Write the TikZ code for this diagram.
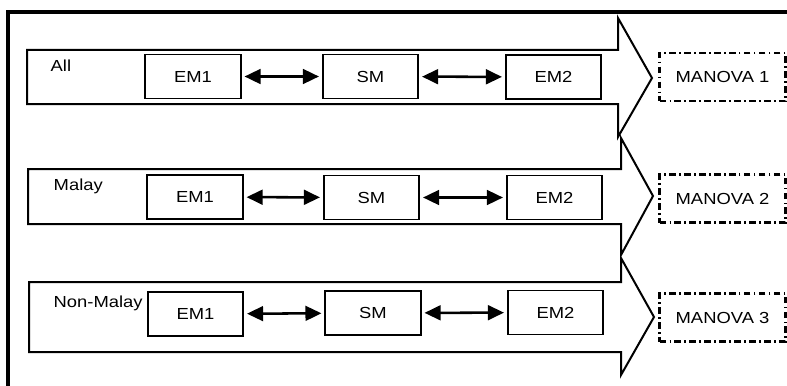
\documentclass[tikz,border=0pt]{standalone}
\usepackage{fontspec}
\setmainfont{Liberation Sans}[FakeStretch=1.15]
\usetikzlibrary{arrows.meta}

\begin{document}
\begin{tikzpicture}[
            x = 0.75pt, y = -0.75pt, % work in pixels, y downwards
            > = {Triangle[length=12pt, width=11pt]}, % arrow head style
            font = \fontsize{12}{14}\selectfont,
            line join = miter
        ]

        \tikzstyle{stage}=[
            draw,
            line width = 1.4pt,
            fill = white,
            inner sep = 0pt,
            minimum width = 71.5pt,
            minimum height = 33pt
        ]
        \tikzstyle{test}=[
            draw,
            line width = 1.6pt,
            dash pattern = on 5pt off 2.5pt on 1.2pt off 2.5pt,
            inner sep = 0pt,
            minimum width = 94.5pt,
            minimum height = 36pt
        ]
        \tikzstyle{band}=[draw, line width = 1.5pt, fill = white]
        \tikzstyle{link}=[<->, line width = 1.9pt, shorten > = 2.2pt, shorten < = 2.2pt]

        \useasboundingbox (0,0) rectangle (787,385);

        % frame
        \draw[line width = 2.6pt] (787,12) -- (8,12) -- (8,386);

        % group arrows
        \draw[band] (27,50) -- (618,50) -- (618,18) -- (652,78) -- (618,137)
                    -- (618,104) -- (27,104) -- cycle;
        \draw[band] (28,169) -- (621,169) -- (621,138) -- (653,196) -- (621,255)
                    -- (621,224) -- (28,224) -- cycle;
        \draw[band] (29,282) -- (621,282) -- (621,258) -- (654,317) -- (621,375)
                    -- (621,352) -- (29,352) -- cycle;

        % all
        \node[anchor=base west] (LA) at (46,71) {All};
        \node[stage] (A1) at (193,76.5) {EM1};
        \node[stage] (AS) at (370.5,76.5) {SM};
        \node[stage] (A2) at (553.5,77) {EM2};
        \node[test]  (AM) at (722.5,77) {MANOVA 1};

        \draw[link] (A1) -- (AS);
        \draw[link] (AS) -- (A2);

        % malay
        \node[anchor=base west] (LM) at (49,190.5) {Malay};
        \node[stage] (M1) at (195,197) {EM1};
        \node[stage] (MS) at (371.5,197.5) {SM};
        \node[stage] (M2) at (554.5,197.5) {EM2};
        \node[test]  (MM) at (722.5,198.5) {MANOVA 2};

        \draw[link] (M1) -- (MS);
        \draw[link] (MS) -- (M2);

        % non-malay
        \node[anchor=base west] (LN) at (49,307) {Non-Malay};
        \node[stage] (N1) at (195.5,314) {EM1};
        \node[stage] (NS) at (373,313) {SM};
        \node[stage] (N2) at (555.5,312.5) {EM2};
        \node[test]  (NM) at (722.5,317.5) {MANOVA 3};

        \draw[link] (N1) -- (NS);
        \draw[link] (NS) -- (N2);

\end{tikzpicture}
\end{document}
